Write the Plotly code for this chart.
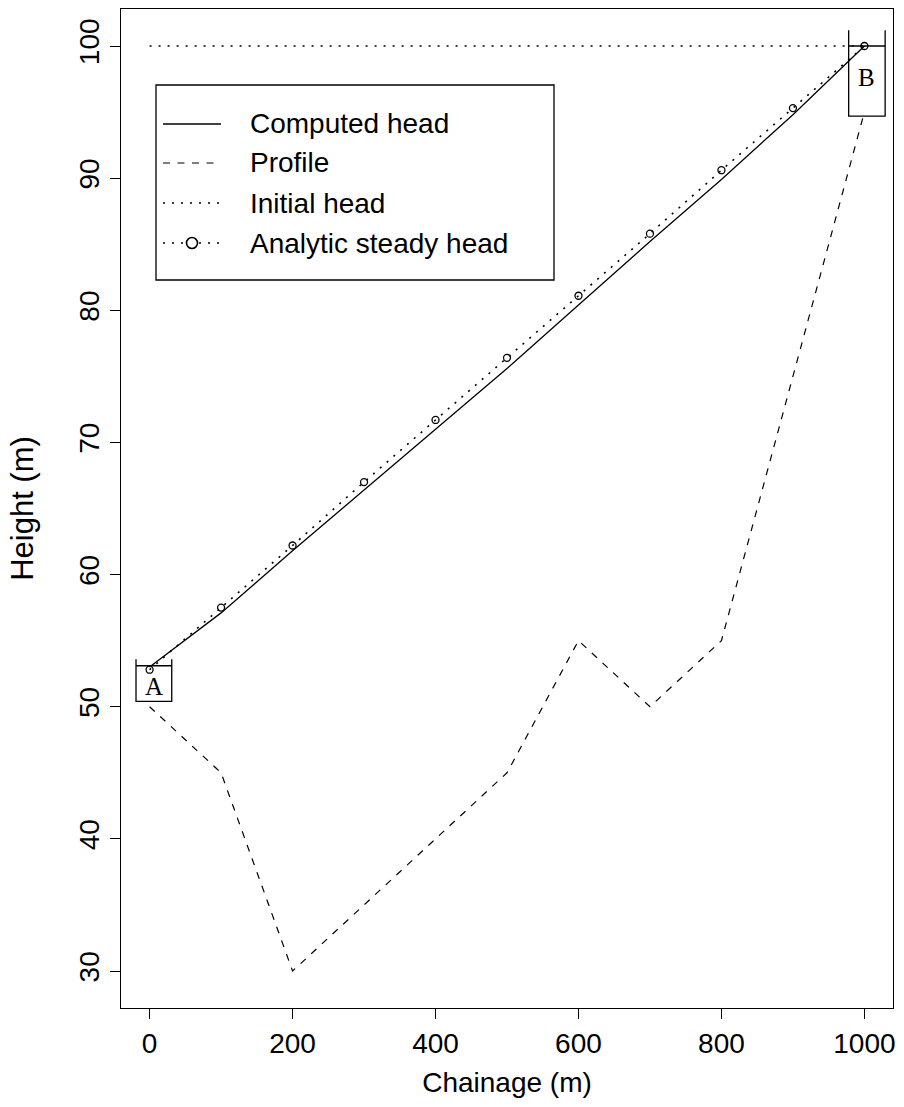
import plotly.graph_objects as go

# ---------------- data ----------------
chainage = [0, 100, 200, 300, 400, 500, 600, 700, 800, 900, 1000]
profile = [50, 45, 30, 35, 40, 45, 55, 50, 55, 75, 95]
computed_head = [53.0, 57.1, 61.8, 66.4, 71.0, 75.6, 80.4, 85.2, 89.9, 94.8, 100.0]
analytic_head = [52.8, 57.5, 62.2, 67.0, 71.7, 76.4, 81.1, 85.8, 90.6, 95.3, 100.0]
initial_x = [0, 1000]
initial_head = [100, 100]

# reservoirs (open-top tanks) and their water levels
resA_x = [-19, -19, 31, 31]
resA_y = [53.6, 50.4, 50.4, 53.6]
resA_level_x = [-19, 31]
resA_level_y = [53.1, 53.1]
resB_x = [978, 978, 1029, 1029]
resB_y = [101.2, 94.7, 94.7, 101.2]
resB_level_x = [978, 1029]
resB_level_y = [100, 100]

x_ticks = [0, 200, 400, 600, 800, 1000]
y_ticks = [30, 40, 50, 60, 70, 80, 90, 100]
legend_labels = ["Computed head", "Profile", "Initial head", "Analytic steady head"]

# ---------------- layout geometry ----------------
W, H = 904, 1107
L, R, T, B = 121, 11, 9, 99
PW, PH = W - L - R, H - T - B

def px(xp):
    return (xp - L) / PW

def py(yp):
    return 1 - (yp - T) / PH

SANS = "Liberation Sans, Arial, Helvetica, sans-serif"
SERIF = "Liberation Serif, Times New Roman, serif"
BLK = "black"
DOT = "2px,7px"
DASH = "7px,7.5px"

fig = go.Figure()

fig.add_trace(go.Scatter(x=chainage, y=profile, mode="lines",
                         line=dict(color=BLK, width=1.2, dash=DASH), showlegend=False))
fig.add_trace(go.Scatter(x=initial_x, y=initial_head, mode="lines",
                         line=dict(color=BLK, width=1.6, dash=DOT), showlegend=False))
fig.add_trace(go.Scatter(x=chainage, y=analytic_head, mode="lines+markers",
                         line=dict(color=BLK, width=1.6, dash=DOT),
                         marker=dict(symbol="circle-open", size=7, color=BLK, line=dict(width=1.3, color=BLK)),
                         showlegend=False))
fig.add_trace(go.Scatter(x=chainage, y=computed_head, mode="lines",
                         line=dict(color=BLK, width=1.3), showlegend=False))

for xs, ys in [(resA_x, resA_y), (resA_level_x, resA_level_y),
               (resB_x, resB_y), (resB_level_x, resB_level_y)]:
    fig.add_trace(go.Scatter(x=xs, y=ys, mode="lines",
                             line=dict(color=BLK, width=1.3), showlegend=False))

fig.add_annotation(x=6, y=51.55, text="A", showarrow=False,
                   font=dict(family=SERIF, size=25, color=BLK))
fig.add_annotation(x=1003, y=97.6, text="B", showarrow=False,
                   font=dict(family=SERIF, size=25, color=BLK))

# ---------------- legend (drawn manually) ----------------
shapes = []
shapes.append(dict(type="rect", xref="paper", yref="paper",
                   x0=px(156), x1=px(554), y0=py(280), y1=py(85),
                   line=dict(color=BLK, width=1.3), fillcolor="white", layer="above"))
rows = [124, 163, 203, 243]
styles = [dict(dash="solid", width=1.3), dict(dash=DASH, width=1.2),
          dict(dash=DOT, width=1.6), dict(dash=DOT, width=1.6)]
for yp, st in zip(rows, styles):
    shapes.append(dict(type="line", xref="paper", yref="paper",
                       x0=px(163), x1=px(221), y0=py(yp), y1=py(yp),
                       line=dict(color=BLK, width=st["width"], dash=st["dash"]), layer="above"))
# circle symbol for analytic entry
r = 5.5
shapes.append(dict(type="circle", xref="paper", yref="paper",
                   x0=px(192 - r), x1=px(192 + r), y0=py(rows[3] + r), y1=py(rows[3] - r),
                   line=dict(color=BLK, width=1.6), fillcolor="white", layer="above"))
for yp, lab in zip(rows, legend_labels):
    fig.add_annotation(xref="paper", yref="paper", x=px(248), y=py(yp), text=lab,
                       xanchor="left", yanchor="middle", showarrow=False,
                       font=dict(family=SANS, size=28, color=BLK))

fig.update_layout(
    width=W, height=H, margin=dict(l=L, r=R, t=T, b=B),
    paper_bgcolor="white", plot_bgcolor="white",
    shapes=shapes,
    font=dict(family=SANS, color=BLK),
    xaxis=dict(range=[-40, 1040], tickvals=x_ticks, ticks="outside", ticklen=10,
               tickwidth=1.2, tickcolor=BLK, showline=True, linecolor=BLK, linewidth=1.3,
               mirror=True, showgrid=False, zeroline=False,
               tickfont=dict(family=SANS, size=28, color=BLK),
               title=dict(text="Chainage (m)", font=dict(family=SANS, size=28, color=BLK), standoff=14)),
    yaxis=dict(range=[27.2, 102.8], tickvals=y_ticks, ticks="outside", ticklen=10,
               tickwidth=1.2, tickcolor=BLK, showline=True, linecolor=BLK, linewidth=1.3,
               mirror=True, showgrid=False, zeroline=False, tickangle=-90,
               tickfont=dict(family=SANS, size=28, color=BLK),
               title=dict(text="Height (m)", font=dict(family=SANS, size=31, color=BLK), standoff=30)),
)

fig.write_html("out.html")
